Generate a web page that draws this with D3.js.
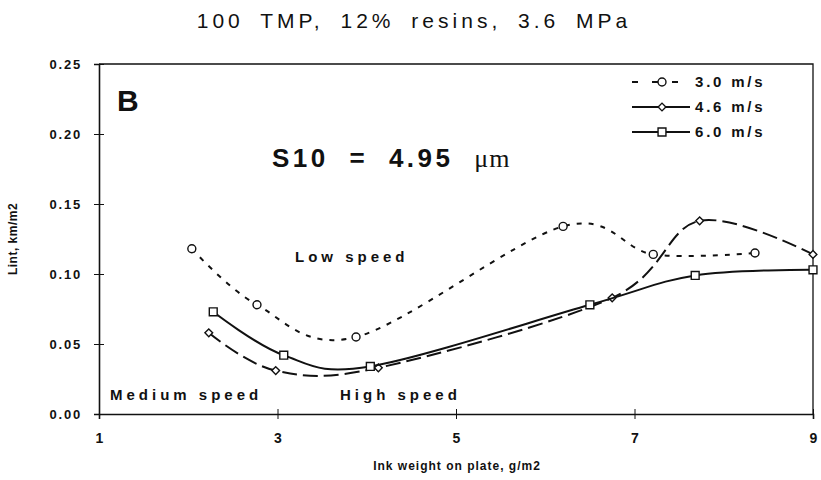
<!DOCTYPE html>
<html>
<head>
<meta charset="utf-8">
<script src="https://cdn.jsdelivr.net/npm/d3@7"></script>
<style>
  body { margin: 0; background: #fff; }
  text { font-family: "Liberation Sans", Arial, sans-serif; fill: #111; }
</style>
</head>
<body>
<svg id="chart" width="821" height="480"></svg>
<script>
// values
var speeds = ["3.0 m/s", "4.6 m/s", "6.0 m/s"]
var ink30 = [2.04, 2.77, 3.88, 6.20, 7.21, 8.35]
var lint30 = [0.118, 0.078, 0.055, 0.134, 0.114, 0.115]
var ink46 = [2.23, 2.98, 4.13, 6.75, 7.73, 9.0]
var lint46 = [0.058, 0.031, 0.033, 0.083, 0.138, 0.114]
var ink60 = [2.28, 3.07, 4.04, 6.50, 7.68, 9.0]
var lint60 = [0.073, 0.042, 0.034, 0.078, 0.099, 0.103]
var xTicks = [1, 3, 5, 7, 9]
var yTicks = [0, 0.05, 0.10, 0.15, 0.20, 0.25]

var width = 821, height = 480
var margin = ({top: 64, right: 8, bottom: 66, left: 99})
var ink = "#111"

var series = [
  {name: speeds[0], xs: ink30, ys: lint30, dash: "5,7", shape: "circle"},
  {name: speeds[1], xs: ink46, ys: lint46, dash: "15,6", shape: "diamond"},
  {name: speeds[2], xs: ink60, ys: lint60, dash: null, shape: "square"}
]

var x = d3.scaleLinear().domain([1, 9]).range([margin.left, width - margin.right])
var y = d3.scaleLinear().domain([0, 0.25]).range([height - margin.bottom, margin.top])

var svg = d3.select("#chart")

// title
svg.append("text")
  .attr("x", 414).attr("y", 28)
  .attr("text-anchor", "middle")
  .style("font-size", "21px")
  .style("letter-spacing", "4px")
  .style("word-spacing", "7px")
  .text("100 TMP, 12% resins, 3.6 MPa")

// frame (top + right)
svg.append("path")
  .attr("fill", "none").attr("stroke", ink).attr("stroke-width", 1.3)
  .attr("d", `M${x(1)},${y(0.25)}H${x(9)}V${y(0)}`)

var xAxis = g => g
  .attr("transform", `translate(0,${y(0)})`)
  .call(d3.axisBottom(x).tickValues(xTicks).tickFormat(d3.format("d")).tickSize(5).tickPadding(14))
  .call(g => g.select(".domain").attr("stroke-width", 1.6).attr("stroke", ink))
  .call(g => g.selectAll(".tick line").attr("y1", -5).attr("stroke", ink))
  .call(g => g.selectAll("text").style("font-size", "14px").style("font-weight", "bold").attr("fill", ink))

var yAxis = g => g
  .attr("transform", `translate(${margin.left},0)`)
  .call(d3.axisLeft(y).tickValues(yTicks).tickFormat(d3.format(".2f")).tickSize(5).tickPadding(12))
  .call(g => g.select(".domain").attr("stroke-width", 1.6).attr("stroke", ink))
  .call(g => g.selectAll(".tick line").attr("x1", 5).attr("stroke", ink))
  .call(g => g.selectAll("text").style("font-size", "13px").style("font-weight", "bold").style("letter-spacing", "1.8px").attr("fill", ink))

svg.append("g").call(xAxis)
svg.append("g").call(yAxis)

// axis titles
svg.append("text")
  .attr("x", 457).attr("y", 470)
  .attr("text-anchor", "middle")
  .style("font-size", "12px").style("font-weight", "bold").style("letter-spacing", "1px")
  .text("Ink weight on plate, g/m2")

svg.append("text")
  .attr("transform", `translate(17,${(y(0) + y(0.25)) / 2}) rotate(-90)`)
  .attr("text-anchor", "middle")
  .style("font-size", "12px").style("font-weight", "bold").style("letter-spacing", "0.5px")
  .text("Lint, km/m2")

// annotations inside plot
svg.append("text").attr("x", 117).attr("y", 111)
  .style("font-size", "30px").style("font-weight", "bold").text("B")

var s10 = svg.append("text").attr("x", 272).attr("y", 167)
  .style("font-size", "26px").style("font-weight", "bold")
  .style("letter-spacing", "3.5px").style("word-spacing", "10px")
s10.append("tspan").text("S10 = 4.95 ")
s10.append("tspan").style("font-family", "'Liberation Serif', 'Times New Roman', serif")
  .style("font-weight", "normal").style("letter-spacing", "1px").text("\u03bcm")

var notes = [
  {t: "Low speed", x: 295, y: 262},
  {t: "Medium speed", x: 110, y: 400},
  {t: "High speed", x: 340, y: 400}
]
svg.append("g").selectAll("text").data(notes).join("text")
  .attr("x", d => d.x).attr("y", d => d.y)
  .style("font-size", "15px").style("font-weight", "bold").style("letter-spacing", "4px")
  .text(d => d.t)

// lines
var line = d3.line().curve(d3.curveCardinal).x(d => x(d[0])).y(d => y(d[1]))

var symbolOf = {
  circle: d3.symbol(d3.symbolCircle, 50),
  diamond: d3.symbol(d3.symbolSquare, 30),
  square: d3.symbol(d3.symbolSquare, 62)
}
var spin = shape => shape == "diamond" ? " rotate(45)" : ""

series.forEach(s => {
  var pts = d3.zip(s.xs, s.ys)
  svg.append("path")
    .attr("fill", "none").attr("stroke", ink).attr("stroke-width", 2)
    .attr("stroke-dasharray", s.dash)
    .attr("d", line(pts))
  svg.append("g").selectAll("path").data(pts).join("path")
    .attr("transform", d => `translate(${x(d[0])},${y(d[1])})` + spin(s.shape))
    .attr("d", symbolOf[s.shape])
    .attr("fill", "#fff").attr("stroke", ink).attr("stroke-width", 1.4)
})

// legend
var legend = svg.append("g").selectAll("g").data(series).join("g")
  .attr("transform", (d, i) => `translate(0,${82 + i * 25})`)
legend.append("line")
  .attr("x1", 632).attr("x2", 690).attr("y1", 0).attr("y2", 0)
  .attr("stroke", ink).attr("stroke-width", 2)
  .attr("stroke-dasharray", d => d.shape == "circle" ? "6,14" : d.shape == "diamond" ? "26,6" : null)
legend.append("path")
  .attr("transform", d => "translate(662,0)" + spin(d.shape))
  .attr("d", d => symbolOf[d.shape]())
  .attr("fill", "#fff").attr("stroke", ink).attr("stroke-width", 1.4)
legend.append("text")
  .attr("x", 695).attr("y", 5)
  .style("font-size", "15px").style("font-weight", "bold").style("letter-spacing", "2.8px")
  .text(d => d.name)
</script>
</body>
</html>
